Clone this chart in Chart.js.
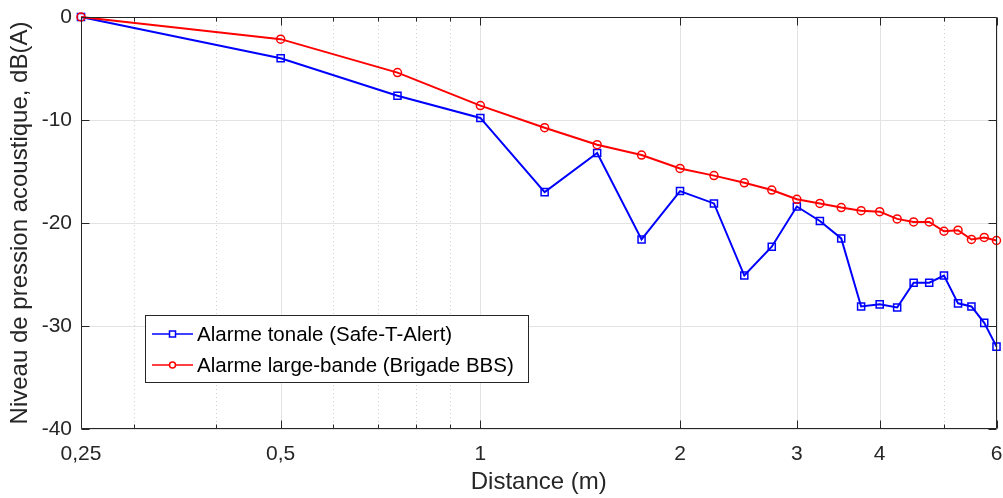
<!DOCTYPE html>
<html>
<head>
<meta charset="utf-8">
<script src="https://cdn.jsdelivr.net/npm/chart.js@4.4.1/dist/chart.umd.min.js"></script>
<style>
html,body{margin:0;padding:0;background:#fff;}
#wrap{width:1003px;height:498px;position:relative;}
</style>
</head>
<body>
<div id="wrap"><canvas id="c" width="1003" height="498"></canvas></div>
<script>
const distances = [0.25,0.5,0.75,1,1.25,1.5,1.75,2,2.25,2.5,2.75,3,3.25,3.5,3.75,4,4.25,4.5,4.75,5,5.25,5.5,5.75,6];
const tonal = [0,-4.0,-7.65,-9.8,-17.0,-13.2,-21.6,-16.9,-18.1,-25.1,-22.3,-18.4,-19.8,-21.5,-28.1,-27.9,-28.2,-25.8,-25.8,-25.1,-27.8,-28.1,-29.7,-32.0];
const broadband = [0,-2.15,-5.4,-8.6,-10.75,-12.4,-13.4,-14.7,-15.4,-16.1,-16.8,-17.7,-18.1,-18.5,-18.8,-18.9,-19.6,-19.9,-19.9,-20.8,-20.7,-21.6,-21.4,-21.7];
const seriesNames = ['Alarme tonale (Safe-T-Alert)','Alarme large-bande (Brigade BBS)'];
const xMajorTicks = [0.25,0.5,1,2,3,4,6];
const xMajorLabels = ['0,25','0,5','1','2','3','4','6'];
const xMinorTicks = [0.3,0.4,0.6,0.7,0.8,0.9,5];
const yTicks = [-40,-30,-20,-10,0];
const xTitle = 'Distance (m)';
const yTitle = 'Niveau de pression acoustique, dB(A)';

const FONT = '"Liberation Sans", Arial, sans-serif';
const AXC = '#262626';

const decor = {
  id:'decor',
  beforeDatasetsDraw(chart){
    const {ctx, chartArea:a, scales:{x,y}} = chart;
    ctx.save();
    ctx.lineWidth = 1;
    ctx.strokeStyle = '#e3e3e3';
    yTicks.forEach(v=>{
      const py = Math.round(y.getPixelForValue(v))+0.5;
      ctx.beginPath(); ctx.moveTo(a.left,py); ctx.lineTo(a.right,py); ctx.stroke();
    });
    xMajorTicks.forEach(v=>{
      const px = Math.round(x.getPixelForValue(v))+0.5;
      ctx.beginPath(); ctx.moveTo(px,a.top); ctx.lineTo(px,a.bottom); ctx.stroke();
    });
    ctx.strokeStyle = '#cfcfcf';
    ctx.setLineDash([1,3]);
    xMinorTicks.forEach(v=>{
      const px = Math.round(x.getPixelForValue(v))+0.5;
      ctx.beginPath(); ctx.moveTo(px,a.top); ctx.lineTo(px,a.bottom); ctx.stroke();
    });
    ctx.restore();
  },
  afterDatasetsDraw(chart){
    const {ctx, chartArea:a, scales:{x,y}} = chart;
    ctx.save();
    ctx.strokeStyle = AXC;
    ctx.lineWidth = 1;
    const L = Math.round(a.left)+0.5, R = Math.round(a.right)-0.5, T = Math.round(a.top)+0.5, B = Math.round(a.bottom)-0.5;
    ctx.beginPath(); ctx.rect(L,T,R-L,B-T); ctx.stroke();
    const tick = (vals,len)=>{
      vals.forEach(v=>{
        const px = Math.round(x.getPixelForValue(v))+0.5;
        ctx.beginPath(); ctx.moveTo(px,B); ctx.lineTo(px,B-len);
        ctx.moveTo(px,T); ctx.lineTo(px,T+len); ctx.stroke();
      });
    };
    tick(xMajorTicks,8); tick(xMinorTicks,4);
    yTicks.forEach(v=>{
      const py = Math.round(y.getPixelForValue(v))+0.5;
      ctx.beginPath(); ctx.moveTo(L,py); ctx.lineTo(L+8,py);
      ctx.moveTo(R,py); ctx.lineTo(R-8,py); ctx.stroke();
    });
    const lx = 145.5, ly = 315.5, lw = 383, lh = 67;
    ctx.fillStyle = '#fff';
    ctx.fillRect(lx,ly,lw,lh);
    ctx.strokeRect(lx,ly,lw,lh);
    const ds = chart.data.datasets;
    const rows = [334, 365];
    ds.forEach((d,i)=>{
      const ry = rows[i];
      ctx.strokeStyle = d.borderColor; ctx.lineWidth = 1.5;
      ctx.beginPath(); ctx.moveTo(152,ry); ctx.lineTo(193,ry); ctx.stroke();
      ctx.fillStyle = '#fff';
      ctx.beginPath();
      if(d.pointStyle==='rect'){ ctx.rect(169.5,ry-3,6,6); }
      else { ctx.arc(172.5,ry,3,0,Math.PI*2); }
      ctx.fill(); ctx.stroke();
      ctx.fillStyle = '#000';
      ctx.font = '20.5px '+FONT;
      ctx.textBaseline = 'middle';
      ctx.textAlign = 'left';
      ctx.fillText(d.label,197,ry+1);
    });
    ctx.restore();
  }
};

const mk = arr => distances.map((d,i)=>({x:d,y:arr[i]}));

new Chart(document.getElementById('c'),{
  type:'line',
  data:{datasets:[
    {label:seriesNames[0], data:mk(tonal), borderColor:'#0000ff', backgroundColor:'rgba(0,0,0,0)',
     borderWidth:2, pointStyle:'rect', pointRadius:5, pointBorderWidth:1.5, pointBackgroundColor:'rgba(0,0,0,0)', order:1, clip:12},
    {label:seriesNames[1], data:mk(broadband), borderColor:'#ff0000', backgroundColor:'rgba(0,0,0,0)',
     borderWidth:2, pointStyle:'circle', pointRadius:4, pointBorderWidth:1.5, pointBackgroundColor:'rgba(0,0,0,0)', order:0, clip:12}
  ]},
  options:{
    responsive:false, animation:false, devicePixelRatio:1,
    layout:{padding:{left:0,right:6,top:17,bottom:0}},
    plugins:{legend:{display:false}, tooltip:{enabled:false}},
    elements:{line:{tension:0}},
    scales:{
      x:{type:'logarithmic', min:0.25, max:6,
        afterBuildTicks(s){ s.ticks = xMajorTicks.concat(xMinorTicks).sort((a,b)=>a-b).map(v=>({value:v})); },
        afterFit(s){ s.height = 69; s.paddingLeft = 0; s.paddingRight = 0; },
        grid:{display:false}, border:{display:false},
        ticks:{autoSkip:false, maxRotation:0, padding:5, color:AXC, font:{family:FONT,size:21},
          callback(v){ const i = xMajorTicks.indexOf(v); return i>=0 ? xMajorLabels[i] : ''; }},
        title:{display:true, text:xTitle, color:AXC, font:{family:FONT,size:24}, padding:{top:0,bottom:1}}
      },
      y:{type:'linear', min:-40, max:0,
        afterBuildTicks(s){ s.ticks = yTicks.map(v=>({value:v})); },
        afterFit(s){ s.width = 81; s.paddingTop = 0; s.paddingBottom = 0; },
        grid:{display:false, drawTicks:false}, border:{display:false},
        ticks:{padding:9, color:AXC, font:{family:FONT,size:21}},
        title:{display:true, text:yTitle, color:AXC, font:{family:FONT,size:24}, padding:{top:6,bottom:0}}
      }
    }
  },
  plugins:[decor]
});
</script>
</body>
</html>
